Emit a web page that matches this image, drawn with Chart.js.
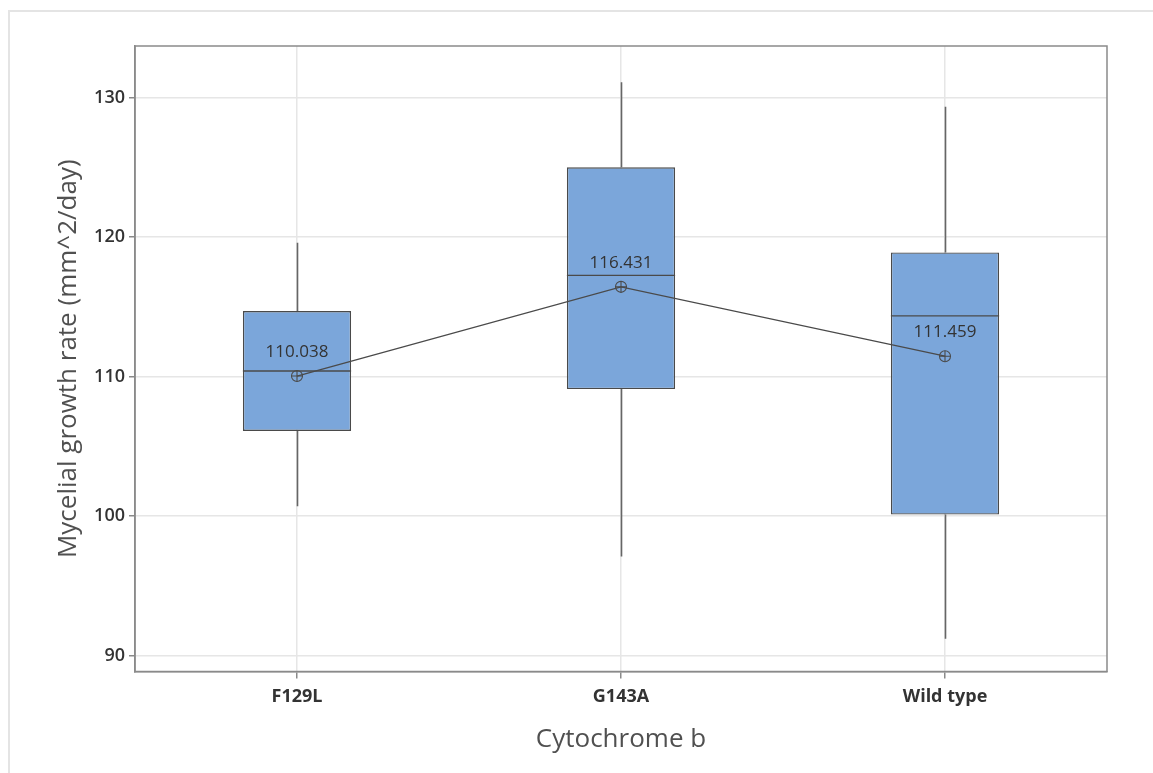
<!DOCTYPE html>
<html>
<head>
<meta charset="utf-8">
<script src="https://cdn.jsdelivr.net/npm/chart.js@4.4.1/dist/chart.umd.min.js"></script>
<style>
html,body{margin:0;padding:0;background:#fff;}
#wrap{position:relative;width:1153px;height:773px;overflow:hidden;}
#frame{position:absolute;left:8px;top:10px;width:1200px;height:800px;border:2px solid #e4e4e4;box-sizing:border-box;pointer-events:none;}
canvas{display:block;}
</style>
</head>
<body>
<div id="wrap"><div id="frame"></div><canvas id="c" width="1153" height="773"></canvas></div>
<script>
const categories = ['F129L', 'G143A', 'Wild type'];
const whiskerLow = [100.7, 97.1, 91.2];
const q1 = [106.1, 109.1, 100.1];
const median = [110.4, 117.25, 114.35];
const q3 = [114.7, 125.0, 118.9];
const whiskerHigh = [119.6, 131.1, 129.35];
const means = [110.038, 116.431, 111.459];
const meanLabels = ['110.038', '116.431', '111.459'];
const yTicks = [90, 100, 110, 120, 130];

const FONT = '"Open Sans", "Noto Sans", sans-serif';

const boxPlugin = {
  id: 'boxParts',
  beforeDatasetsDraw(chart) {
    const {ctx, scales: {x, y}} = chart;
    ctx.save();
    ctx.strokeStyle = '#666';
    ctx.lineWidth = 1.6;
    categories.forEach((c, i) => {
      const px = Math.round(x.getPixelForValue(i)) + 0.5;
      ctx.beginPath();
      ctx.moveTo(px, y.getPixelForValue(whiskerLow[i]));
      ctx.lineTo(px, y.getPixelForValue(q1[i]));
      ctx.moveTo(px, y.getPixelForValue(q3[i]));
      ctx.lineTo(px, y.getPixelForValue(whiskerHigh[i]));
      ctx.stroke();
    });
    ctx.restore();
  },
  afterDatasetDraw(chart, args) {
    if (args.index !== 0) return;
    const {ctx, scales: {y}} = chart;
    const meta = chart.getDatasetMeta(0);
    ctx.save();
    ctx.strokeStyle = '#4a4a4a';
    ctx.lineWidth = 1.4;
    meta.data.forEach((bar, i) => {
      const half = bar.width / 2;
      const py = y.getPixelForValue(median[i]);
      ctx.beginPath();
      ctx.moveTo(bar.x - half, py);
      ctx.lineTo(bar.x + half, py);
      ctx.stroke();
    });
    ctx.restore();
  },
  afterDatasetsDraw(chart) {
    const {ctx, chartArea: a, scales: {x, y}} = chart;
    ctx.save();
    ctx.fillStyle = '#333';
    ctx.font = '17px ' + FONT;
    ctx.textAlign = 'center';
    ctx.textBaseline = 'middle';
    categories.forEach((c, i) => {
      ctx.fillText(meanLabels[i], x.getPixelForValue(i), y.getPixelForValue(means[i]) - 24);
    });
    ctx.strokeStyle = '#8a8a8a';
    ctx.lineWidth = 1.5;
    ctx.strokeRect(a.left, a.top, a.right - a.left, a.bottom - a.top);
    ctx.restore();
  }
};

new Chart(document.getElementById('c'), {
  type: 'bar',
  data: {
    labels: categories,
    datasets: [
      {
        type: 'bar',
        data: categories.map((c, i) => [q1[i], q3[i]]),
        backgroundColor: '#7ba6da',
        borderColor: '#4a4a4a',
        borderWidth: 1.4,
        borderSkipped: false,
        barPercentage: 0.334,
        categoryPercentage: 1,
        order: 2
      },
      {
        type: 'line',
        data: means,
        borderColor: '#4a4a4a',
        borderWidth: 1.3,
        pointStyle: 'circle',
        pointRadius: 5.5,
        pointBorderColor: '#4a4a4a',
        pointBackgroundColor: 'rgba(0,0,0,0)',
        pointBorderWidth: 1.1,
        order: 0
      },
      {
        type: 'line',
        data: means,
        showLine: false,
        pointStyle: 'cross',
        pointRadius: 5.5,
        pointBorderColor: '#4a4a4a',
        pointBorderWidth: 1.1,
        order: 0
      }
    ]
  },
  options: {
    responsive: false,
    animation: false,
    devicePixelRatio: 1,
    layout: {padding: {top: 46, right: 46, left: 0, bottom: 0}},
    plugins: {legend: {display: false}, tooltip: {enabled: false}},
    scales: {
      x: {
        offset: true,
        grid: {offset: false, color: '#e6e6e6', lineWidth: 1.5, tickColor: '#8a8a8a', tickLength: 7},
        border: {color: '#8a8a8a', width: 1.5},
        ticks: {font: {family: FONT, size: 18, weight: '700'}, color: '#333', padding: 8},
        title: {display: true, text: 'Cytochrome b', font: {family: FONT, size: 26}, color: '#505050', padding: {top: 0, bottom: 18}},
        afterFit(s) { s.height = 101.5; }
      },
      y: {
        min: 88.85,
        max: 133.7,
        grid: {color: '#e6e6e6', lineWidth: 1.5, tickColor: '#8a8a8a', tickLength: 6},
        border: {color: '#8a8a8a', width: 1.5},
        ticks: {font: {family: FONT, size: 18, weight: '600'}, color: '#333', padding: 4},
        afterBuildTicks(s) { s.ticks = yTicks.map(v => ({value: v})); },
        title: {display: true, text: 'Mycelial growth rate (mm^2/day)', font: {family: FONT, size: 26}, color: '#505050', padding: {top: 53, bottom: 0}},
        afterFit(s) { s.width = 135; }
      }
    }
  },
  plugins: [boxPlugin]
});
</script>
</body>
</html>
